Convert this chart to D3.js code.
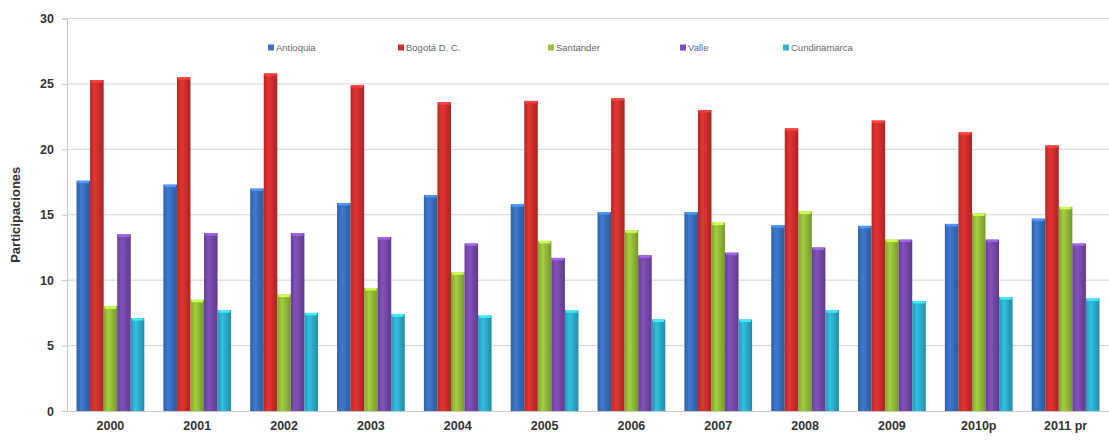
<!DOCTYPE html>
<html>
<head>
<meta charset="utf-8">
<script src="https://cdn.jsdelivr.net/npm/d3@7"></script>
<style>
  body { margin: 0; background: #fff; }
  svg { display: block; font-family: "Liberation Sans", Arial, sans-serif; }
</style>
</head>
<body>
<div id="chart"></div>
<script>
// Categories and series
const years = ['2000', '2001', '2002', '2003', '2004', '2005', '2006', '2007', '2008', '2009', '2010p', '2011 pr'];
const seriesNames = ['Antioquia', 'Bogotá D. C.', 'Santander', 'Valle', 'Cundinamarca'];
const antioquia = [17.6, 17.3, 17.0, 15.9, 16.5, 15.8, 15.2, 15.2, 14.2, 14.15, 14.3, 14.7];
const bogota = [25.3, 25.5, 25.8, 24.9, 23.6, 23.7, 23.9, 23.0, 21.6, 22.2, 21.3, 20.3];
const santander = [8.0, 8.5, 8.9, 9.4, 10.6, 13.0, 13.8, 14.4, 15.25, 13.1, 15.1, 15.6];
const valle = [13.5, 13.6, 13.6, 13.3, 12.8, 11.7, 11.9, 12.1, 12.5, 13.1, 13.1, 12.8];
const cundinamarca = [7.1, 7.7, 7.5, 7.4, 7.3, 7.7, 7.0, 7.0, 7.7, 8.4, 8.7, 8.6];
const yTicks = [0, 5, 10, 15, 20, 25, 30];

const seriesValues = [antioquia, bogota, santander, valle, cundinamarca];
const colors = ['#3a72c4', '#d6302e', '#98c23a', '#7a4bb0', '#2eb3d3'];
const legendX = [268, 398, 548, 680, 783];

const width = 1109, height = 441;
const margin = { top: 18.5, right: 0, bottom: 30, left: 67 };

const svg = d3.select('#chart')
    .append('svg')
    .attr('width', width)
    .attr('height', height);

// Gradients to give the bars a rounded look
const defs = svg.append('defs');
colors.forEach((c, i) => {
    const g = defs.append('linearGradient')
        .attr('id', 'grad' + i)
        .attr('x1', '0%').attr('x2', '100%')
        .attr('y1', '0%').attr('y2', '0%');
    g.append('stop').attr('offset', '0%').attr('stop-color', d3.color(c).darker(0.5));
    g.append('stop').attr('offset', '35%').attr('stop-color', d3.color(c).brighter(0.2));
    g.append('stop').attr('offset', '100%').attr('stop-color', d3.color(c).darker(0.7));
});

const x = d3.scaleBand()
    .domain(years)
    .range([margin.left, width - margin.right])
    .paddingInner(0.22)
    .paddingOuter(0.11);

const x1 = d3.scaleBand()
    .domain(seriesNames)
    .range([0, x.bandwidth()])
    .padding(0);

const y = d3.scaleLinear()
    .domain([0, 30])
    .range([height - margin.bottom, margin.top]);

// Gridlines
svg.append('g')
    .selectAll('line')
    .data(yTicks.filter(d => d > 0))
    .enter()
    .append('line')
    .attr('x1', margin.left)
    .attr('x2', width)
    .attr('y1', d => y(d))
    .attr('y2', d => y(d))
    .attr('stroke', '#d4d4d4')
    .attr('stroke-width', 1);

// Y axis
const yAxis = svg.append('g')
    .attr('transform', `translate(${margin.left},0)`)
    .call(d3.axisLeft(y).tickValues(yTicks).tickSize(5).tickPadding(8));
yAxis.select('.domain').attr('stroke', '#b9c9d6');
yAxis.selectAll('.tick line').attr('stroke', '#b9c9d6');
yAxis.selectAll('text')
    .attr('fill', '#333')
    .style('font-size', '12.5px')
    .style('font-weight', 'bold');

// Bars
const groups = svg.append('g')
    .selectAll('g')
    .data(years)
    .enter()
    .append('g')
    .attr('transform', d => `translate(${x(d)},0)`);

groups.selectAll('rect.bar')
    .data((d, i) => seriesNames.map((s, k) => ({ s, k, v: seriesValues[k][i] })))
    .enter()
    .append('rect')
    .attr('class', 'bar')
    .attr('x', d => x1(d.s))
    .attr('y', d => y(d.v))
    .attr('width', x1.bandwidth())
    .attr('height', d => y(0) - y(d.v))
    .attr('fill', d => `url(#grad${d.k})`);

// light cap on top of each bar
groups.selectAll('rect.cap')
    .data((d, i) => seriesNames.map((s, k) => ({ s, k, v: seriesValues[k][i] })))
    .enter()
    .append('rect')
    .attr('class', 'cap')
    .attr('x', d => x1(d.s) + 1)
    .attr('y', d => y(d.v))
    .attr('width', x1.bandwidth() - 2)
    .attr('height', 2.5)
    .attr('fill', d => d3.color(colors[d.k]).brighter(0.8));

// X axis
const xAxis = svg.append('g')
    .attr('transform', `translate(0,${y(0)})`)
    .call(d3.axisBottom(x).tickSize(0).tickPadding(10));
xAxis.select('.domain').attr('stroke', '#c8c8c8');
xAxis.selectAll('text')
    .attr('fill', '#333')
    .style('font-size', '12.5px')
    .style('font-weight', 'bold');

// Y axis title
svg.append('text')
    .attr('transform', `translate(20,${(y(0) + y(30)) / 2}) rotate(-90)`)
    .attr('text-anchor', 'middle')
    .attr('fill', '#333')
    .style('font-size', '13px')
    .style('font-weight', 'bold')
    .text('Participaciones');

// Legend
const legend = svg.append('g')
    .selectAll('g')
    .data(seriesNames)
    .enter()
    .append('g')
    .attr('transform', (d, i) => `translate(${legendX[i]},48)`);

legend.append('rect')
    .attr('x', 0)
    .attr('y', -3.5)
    .attr('width', 6)
    .attr('height', 6)
    .attr('fill', (d, i) => colors[i]);

legend.append('text')
    .attr('x', 8)
    .attr('y', 0)
    .attr('dy', '0.35em')
    .attr('fill', '#666')
    .style('font-size', '9.5px')
    .text(d => d);
</script>
</body>
</html>
